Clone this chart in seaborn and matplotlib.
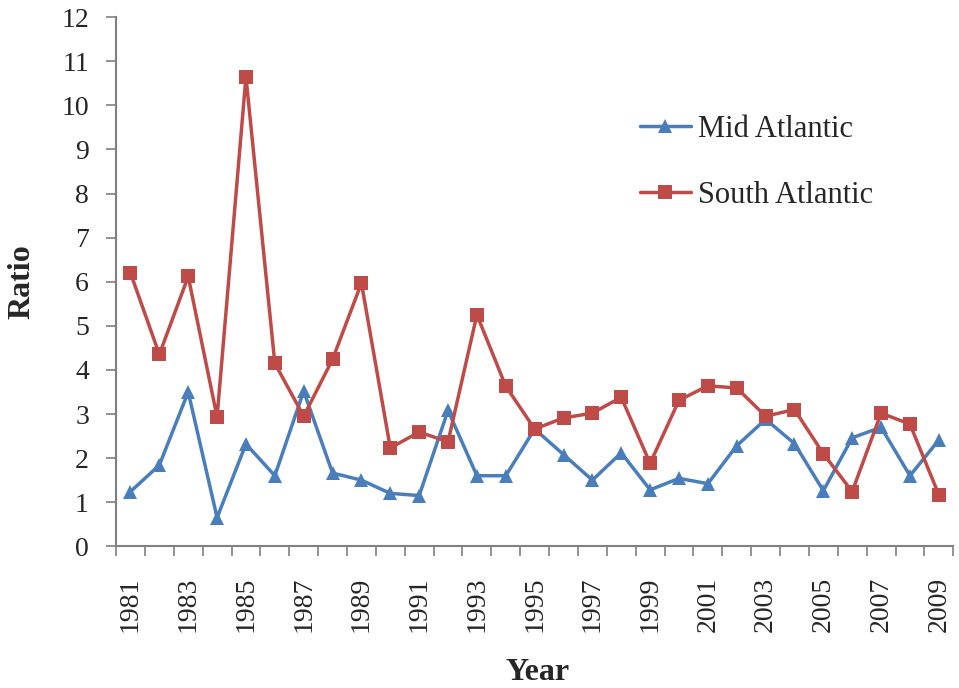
import numpy as np
import pandas as pd
import matplotlib
matplotlib.use("Agg")
import matplotlib.pyplot as plt
import seaborn as sns

# values
years = list(range(1981, 2010))
mid_atlantic = [1.24, 1.84, 3.50, 0.65, 2.32, 1.60, 3.52, 1.66, 1.50, 1.20, 1.15,
                3.08, 1.60, 1.60, 2.66, 2.08, 1.50, 2.12, 1.28, 1.54, 1.42, 2.28,
                2.88, 2.33, 1.26, 2.46, 2.70, 1.60, 2.41]
south_atlantic = [6.20, 4.35, 6.12, 2.93, 10.65, 4.15, 2.95, 4.24, 5.97, 2.23, 2.59,
                  2.37, 5.25, 3.63, 2.66, 2.91, 3.02, 3.38, 1.88, 3.31, 3.64, 3.59,
                  2.95, 3.10, 2.10, 1.24, 3.02, 2.77, 1.17]
series_names = ["Mid Atlantic", "South Atlantic"]

df = pd.DataFrame({
    "Year": years * 2,
    "Ratio": mid_atlantic + south_atlantic,
    "Series": [series_names[0]] * len(years) + [series_names[1]] * len(years),
})

sns.set_style("white")
plt.rcParams["font.family"] = ["Liberation Serif", "DejaVu Serif"]

fig = plt.figure(figsize=(9.59, 6.88), dpi=100)
ax = fig.add_axes([0.121, 0.206, 0.873, 0.769])

palette = {"Mid Atlantic": "#4A7EBB", "South Atlantic": "#BE4B48"}
sns.lineplot(data=df, x="Year", y="Ratio", hue="Series", style="Series",
             palette=palette, markers={"Mid Atlantic": "^", "South Atlantic": "s"},
             dashes=False, linewidth=2.5, markersize=10.5, markeredgewidth=0,
             ax=ax)

ax.set_xlim(1980.5, 2009.5)
ax.set_ylim(0, 12)
ax.set_yticks(range(0, 13))
ax.set_xticks(years[::2])
ax.set_xticklabels([str(y) for y in years[::2]], rotation=90)
ax.set_xticks(np.arange(1980.5, 2010.5, 1.0), minor=True)
ax.tick_params(axis="x", which="major", length=0, pad=22, labelsize=20)
ax.tick_params(axis="x", which="minor", length=7, color="#808080", width=1.2,
               direction="out", bottom=True)
ax.tick_params(axis="y", length=7.5, color="#808080", width=1.2, direction="out",
               left=True, labelsize=20, pad=12)

for s in ["top", "right"]:
    ax.spines[s].set_visible(False)
for s in ["left", "bottom"]:
    ax.spines[s].set_color("#808080")
    ax.spines[s].set_linewidth(1.5)

ax.set_xlabel("Year", fontsize=23, fontweight="bold")
ax.xaxis.set_label_coords(0.503, -0.212)
ax.set_ylabel("Ratio", fontsize=23, fontweight="bold")
ax.yaxis.set_label_coords(-0.095, 0.5)

leg = ax.legend(title=None, loc="center left", bbox_to_anchor=(0.626, 0.726),
                frameon=False, fontsize=22, labelspacing=1.22, handlelength=1.65,
                handletextpad=0.25, borderaxespad=0, borderpad=0)

fig.savefig("out.png", dpi=100)
